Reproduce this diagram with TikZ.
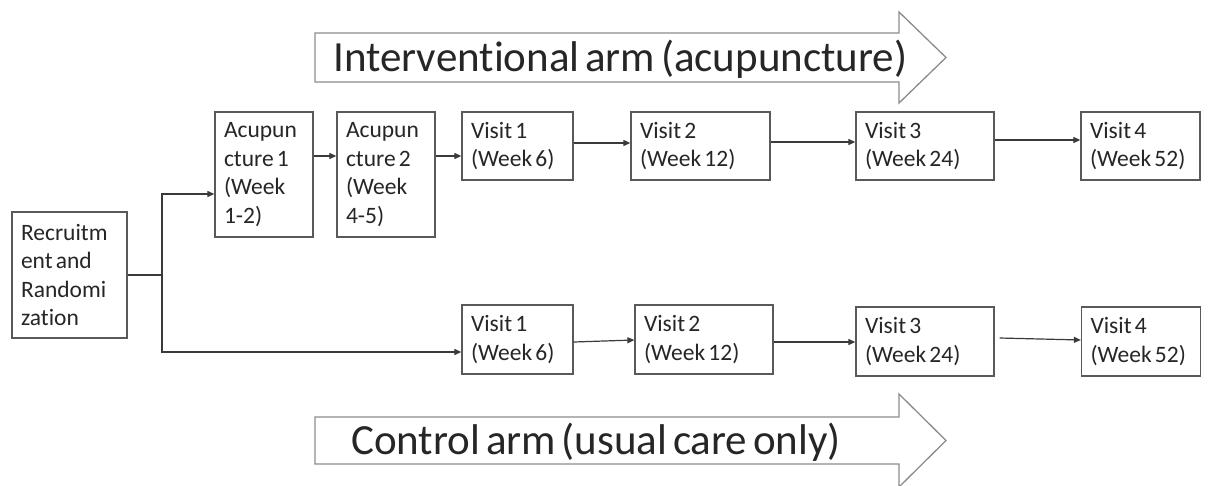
\documentclass[tikz,border=0pt]{standalone}
\usepackage{fontspec}
\setmainfont{Carlito}[WordSpace=0.6, Ligatures=NoCommon]
\usetikzlibrary{arrows.meta}
\definecolor{boxline}{HTML}{595959}
\definecolor{bigline}{HTML}{8C8C8C}
\definecolor{txt}{HTML}{262626}
\definecolor{conn}{HTML}{3A3A3A}
\begin{document}
\begin{tikzpicture}[x=1pt,y=-1pt,
  box/.style={draw=boxline, line width=1.3pt, align=left, inner xsep=9pt, inner ysep=0pt,
    text=txt, font={\fontsize{23.5}{28.6}\selectfont},
    execute at begin node={\spaceskip=0pt\xspaceskip=0pt\relax}},
  bigarrow/.style={draw=bigline, line width=1.3pt, fill=white, line join=miter},
  bigtext/.style={text=txt, font={\fontsize{43}{52}\selectfont}, inner sep=0pt},
  arr/.style={draw=conn, line width=1.2pt, -{Triangle[length=7pt,width=6pt]}},
  line/.style={draw=conn, line width=1.2pt}]
\useasboundingbox (0,0) rectangle (1212,485);
\fill[white] (0,0) rectangle (1212,485);

% big arrows
\draw[bigarrow] (315,33) -- (899,33) -- (899,12) -- (946,57.5) -- (899,103) -- (899,82) -- (315,82) -- cycle;
\node[bigtext, anchor=base west] (ttop) at (333,71) {Interventional arm (acupuncture)};
\draw[bigarrow] (315,417) -- (899,417) -- (899,394) -- (946,440.5) -- (899,487) -- (899,464) -- (315,464) -- cycle;
\node[bigtext, anchor=base west] (tbot) at (351,454) {Control arm (usual care only)};

% boxes
\node[box, minimum width=115pt, text width=97pt, minimum height=126pt] (rec) at (69.5,275) {Recruitm\\ent and\\Randomi\\zation};
\node[box, minimum width=98pt, text width=80pt, minimum height=125pt] (acu1) at (264,174.5) {Acupun\\cture 1\\(Week\\1-2)};
\node[box, minimum width=98pt, text width=80pt, minimum height=125pt] (acu2) at (386,174.5) {Acupun\\cture 2\\(Week\\4-5)};

\node[box, minimum width=111pt, text width=93pt, minimum height=68pt] (v1t) at (517.5,146) {Visit 1\\(Week 6)};
\node[box, minimum width=139pt, text width=121pt, minimum height=68pt] (v2t) at (700.5,146) {Visit 2\\(Week 12)};
\node[box, minimum width=138pt, text width=120pt, minimum height=68pt] (v3t) at (925,146) {Visit 3\\(Week 24)};
\node[box, minimum width=119pt, text width=101pt, minimum height=68pt] (v4t) at (1140.5,146) {Visit 4\\(Week 52)};

\node[box, minimum width=111pt, text width=93pt, minimum height=69pt] (v1b) at (517.5,339.5) {Visit 1\\(Week 6)};
\node[box, minimum width=138pt, text width=120pt, minimum height=69pt] (v2b) at (704,339.5) {Visit 2\\(Week 12)};
\node[box, minimum width=138pt, text width=120pt, minimum height=69pt] (v3b) at (925,341.5) {Visit 3\\(Week 24)};
\node[box, minimum width=119pt, text width=101pt, minimum height=69pt] (v4b) at (1141,341.5) {Visit 4\\(Week 52)};

% connectors
\coordinate (j) at (162,275);
\draw[line] (rec.east) -- (j);
\draw[arr] (j) |- ([yshift=-19.5pt]acu1.west);
\draw[arr] (j) |- ([yshift=-12.5pt]v1b.west);

\draw[arr] ([yshift=18.5pt]acu1.east) -- ([yshift=18.5pt]acu2.west);
\draw[arr] ([yshift=18.5pt]acu2.east) -- ([yshift=18.5pt]acu2.east -| v1t.west);
\draw[arr] ([yshift=3pt]v1t.east) -- ([yshift=3pt]v1t.east -| v2t.west);
\draw[arr] ([yshift=4pt]v2t.east) -- ([yshift=4pt]v2t.east -| v3t.west);
\draw[arr] ([yshift=6pt]v3t.east) -- ([yshift=6pt]v3t.east -| v4t.west);

\draw[arr] ([yshift=-2.5pt]v1b.east) -- ([yshift=-0.5pt]v2b.west);
\draw[arr] ([yshift=-2.5pt]v2b.east) -- ([yshift=-0.5pt]v3b.west);
\draw[arr] ([xshift=5pt,yshift=3.5pt]v3b.east) -- ([yshift=1.5pt]v4b.west);
\end{tikzpicture}
\end{document}
